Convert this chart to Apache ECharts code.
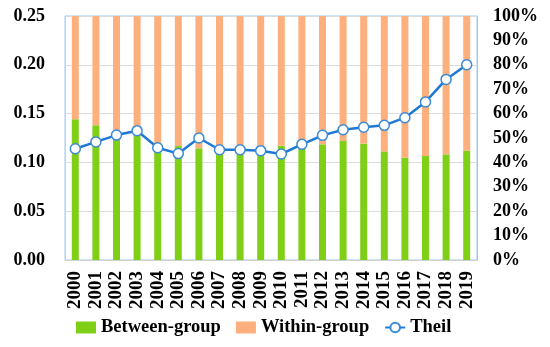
<!DOCTYPE html>
<html><head><meta charset="utf-8">
<script src="https://cdn.jsdelivr.net/npm/echarts@6/dist/echarts.min.js"></script>
<style>html,body{margin:0;padding:0;background:#fff}#c{width:550px;height:347px}</style>
</head><body><div id="c"></div>
<script>
var years = ['2000','2001','2002','2003','2004','2005','2006','2007','2008','2009','2010','2011','2012','2013','2014','2015','2016','2017','2018','2019'];
var betweenShare = [57.7,55.2,50.8,51.2,48.0,46.7,45.8,44.0,44.0,43.7,46.8,45.8,47.4,48.8,47.7,44.5,41.9,42.6,43.3,44.8];
var theil = [0.114,0.121,0.128,0.1325,0.115,0.109,0.125,0.113,0.113,0.112,0.1086,0.1185,0.1277,0.1335,0.136,0.138,0.1458,0.162,0.185,0.200];
var leftTicks = ['0.00','0.05','0.10','0.15','0.20','0.25'];
var withinShare = betweenShare.map(function(v){return +(100 - v).toFixed(1);});

var F = '"Liberation Serif","Times New Roman",serif';
var chart = echarts.init(document.getElementById('c'));
chart.setOption({
  animation:false,
  grid:{left:65,right:73,top:16,bottom:87,show:true,borderColor:'#9dc8ee',borderWidth:1},
  legend:{bottom:5,left:71,itemGap:15,itemWidth:20,itemHeight:12,
    textStyle:{fontFamily:F,fontWeight:'bold',fontSize:18.5,color:'#000'},
    data:[{name:'Between-group',icon:'rect'},{name:'Within-group',icon:'rect'},{name:'Theil'}]},
  xAxis:{type:'category',data:years,
    axisLine:{lineStyle:{color:'#d0d0d0'}},axisTick:{show:false},
    axisLabel:{rotate:90,interval:0,fontFamily:F,fontWeight:'bold',fontSize:19,color:'#000',margin:11}},
  yAxis:[
    {type:'value',min:0,max:0.25,interval:0.05,position:'left',
      axisLine:{show:true,lineStyle:{color:'#d0d0d0'}},axisTick:{show:false},
      splitLine:{lineStyle:{color:'#dcdcdc'}},
      axisLabel:{formatter:function(v){return leftTicks[Math.round(v/0.05)];},fontFamily:F,fontWeight:'bold',fontSize:18,color:'#000',margin:20}},
    {type:'value',min:0,max:100,interval:10,position:'right',
      axisLine:{show:true,lineStyle:{color:'#9dc8ee'}},axisTick:{show:false},splitLine:{show:false},
      axisLabel:{formatter:'{value}%',fontFamily:F,fontWeight:'bold',fontSize:18,color:'#000',margin:16}}
  ],
  series:[
    {name:'Between-group',type:'bar',stack:'s',yAxisIndex:1,barWidth:7,data:betweenShare,itemStyle:{color:'#7fcf17'}},
    {name:'Within-group',type:'bar',stack:'s',yAxisIndex:1,barWidth:7,data:withinShare,itemStyle:{color:'#fdb07d'}},
    {name:'Theil',type:'line',yAxisIndex:0,data:theil,symbol:'circle',symbolSize:10,
      lineStyle:{color:'#1f78d1',width:2.5},
      itemStyle:{color:'#fff',borderColor:'#3a8ad8',borderWidth:1.5},z:5}
  ]
});
</script></body></html>
